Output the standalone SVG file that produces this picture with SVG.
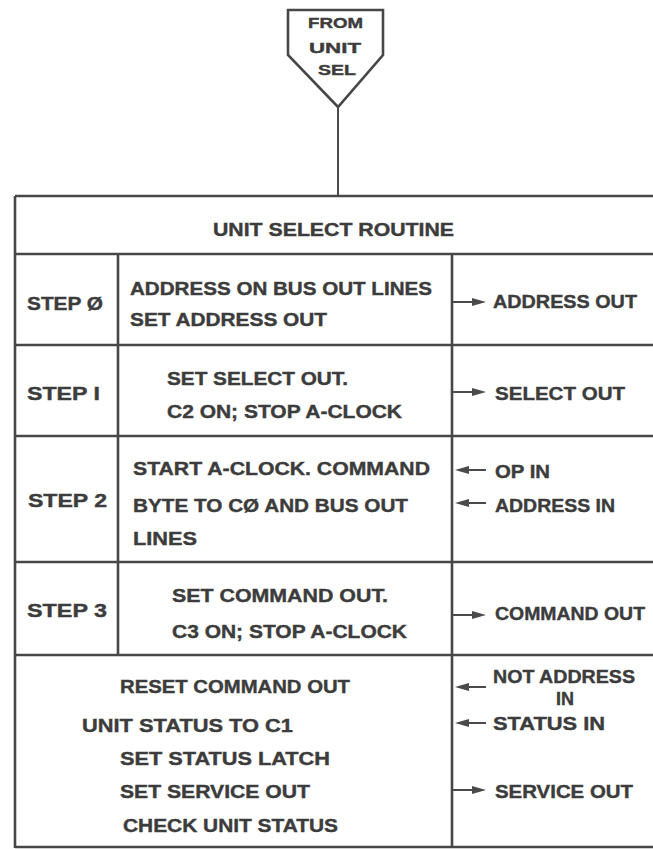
<svg xmlns="http://www.w3.org/2000/svg" width="653" height="849" viewBox="0 0 653 849">
<style>
.bg{fill:#ffffff}
.ln{stroke:#474747;stroke-width:2.6;fill:none}
.cn{stroke:#4a4a4a;stroke-width:2;fill:none}
.t{font-family:"Liberation Sans",Arial,sans-serif;font-weight:bold;font-size:19px;fill:#3c3c3c;stroke:#3c3c3c;stroke-width:0.4}
.s{font-size:15px}
</style>
<defs>
<marker id="ah" viewBox="0 0 14 8" refX="4" refY="4" markerWidth="14" markerHeight="8" markerUnits="userSpaceOnUse" orient="auto">
<path d="M0,0 L14,4 L0,8 z" fill="#4a4a4a"/>
</marker>
</defs>
<rect class="bg" x="0" y="0" width="653" height="849"/>

<g id="from-unit-sel">
<polygon class="ln" points="288,10 383,10 383,55 338,107 288,55"/>
<text class="t s" x="308" y="28" textLength="55" lengthAdjust="spacingAndGlyphs">FROM</text>
<text class="t s" x="309" y="53" textLength="52" lengthAdjust="spacingAndGlyphs">UNIT</text>
<text class="t s" x="318" y="75" textLength="38" lengthAdjust="spacingAndGlyphs">SEL</text>
</g>

<g id="table">
<line class="ln" x1="15" y1="196" x2="653" y2="196"/>
<line class="ln" x1="15" y1="254" x2="653" y2="254"/>
<line class="ln" x1="15" y1="345" x2="653" y2="345"/>
<line class="ln" x1="15" y1="436" x2="653" y2="436"/>
<line class="ln" x1="15" y1="562" x2="653" y2="562"/>
<line class="ln" x1="15" y1="655" x2="653" y2="655"/>
<line class="ln" x1="15" y1="847" x2="653" y2="847"/>
<line class="ln" x1="15" y1="196" x2="15" y2="848"/>
<line class="ln" x1="118" y1="254" x2="118" y2="655"/>
<line class="ln" x1="452" y1="254" x2="452" y2="848"/>
</g>

<g id="title">
<text class="t" x="213" y="236" textLength="241" lengthAdjust="spacingAndGlyphs">UNIT SELECT ROUTINE</text>
</g>

<g id="step0">
<text class="t" x="27" y="310" textLength="76" lengthAdjust="spacingAndGlyphs">STEP Ø</text>
<text class="t" x="130" y="295" textLength="302" lengthAdjust="spacingAndGlyphs">ADDRESS ON BUS OUT LINES</text>
<text class="t" x="130" y="326" textLength="197" lengthAdjust="spacingAndGlyphs">SET ADDRESS OUT</text>
<text class="t" x="493" y="308" textLength="144" lengthAdjust="spacingAndGlyphs">ADDRESS OUT</text>
</g>

<g id="step1">
<text class="t" x="27" y="400" textLength="73" lengthAdjust="spacingAndGlyphs">STEP I</text>
<text class="t" x="167" y="385" textLength="181" lengthAdjust="spacingAndGlyphs">SET SELECT OUT.</text>
<text class="t" x="167" y="418" textLength="235" lengthAdjust="spacingAndGlyphs">C2 ON;  STOP A-CLOCK</text>
<text class="t" x="495" y="400" textLength="130" lengthAdjust="spacingAndGlyphs">SELECT OUT</text>
</g>

<g id="step2">
<text class="t" x="28" y="507" textLength="79" lengthAdjust="spacingAndGlyphs">STEP 2</text>
<text class="t" x="133" y="475" textLength="297" lengthAdjust="spacingAndGlyphs">START A-CLOCK.  COMMAND</text>
<text class="t" x="133" y="512" textLength="275" lengthAdjust="spacingAndGlyphs">BYTE TO CØ AND BUS OUT</text>
<text class="t" x="133" y="545" textLength="64" lengthAdjust="spacingAndGlyphs">LINES</text>
<text class="t" x="495" y="478" textLength="55" lengthAdjust="spacingAndGlyphs">OP IN</text>
<text class="t" x="495" y="512" textLength="120" lengthAdjust="spacingAndGlyphs">ADDRESS IN</text>
</g>

<g id="step3">
<text class="t" x="27" y="617" textLength="80" lengthAdjust="spacingAndGlyphs">STEP 3</text>
<text class="t" x="172" y="602" textLength="216" lengthAdjust="spacingAndGlyphs">SET COMMAND OUT.</text>
<text class="t" x="172" y="638" textLength="235" lengthAdjust="spacingAndGlyphs">C3 ON;  STOP A-CLOCK</text>
<text class="t" x="495" y="620" textLength="150" lengthAdjust="spacingAndGlyphs">COMMAND OUT</text>
</g>

<g id="final">
<text class="t" x="120" y="693" textLength="230" lengthAdjust="spacingAndGlyphs">RESET COMMAND OUT</text>
<text class="t" x="82" y="732" textLength="211" lengthAdjust="spacingAndGlyphs">UNIT STATUS TO C1</text>
<text class="t" x="120" y="765" textLength="210" lengthAdjust="spacingAndGlyphs">SET STATUS LATCH</text>
<text class="t" x="120" y="798" textLength="190" lengthAdjust="spacingAndGlyphs">SET SERVICE OUT</text>
<text class="t" x="123" y="832" textLength="215" lengthAdjust="spacingAndGlyphs">CHECK UNIT STATUS</text>
<text class="t" x="493" y="683" textLength="142" lengthAdjust="spacingAndGlyphs">NOT ADDRESS</text>
<text class="t" x="556" y="705" textLength="18" lengthAdjust="spacingAndGlyphs">IN</text>
<text class="t" x="493" y="730" textLength="112" lengthAdjust="spacingAndGlyphs">STATUS IN</text>
<text class="t" x="495" y="798" textLength="138" lengthAdjust="spacingAndGlyphs">SERVICE OUT</text>
</g>

<g id="connectors">
<line class="cn" x1="338" y1="107" x2="338" y2="196"/>
<line class="cn" x1="453" y1="302" x2="476" y2="302" marker-end="url(#ah)"/>
<line class="cn" x1="453" y1="392" x2="476" y2="392" marker-end="url(#ah)"/>
<line class="cn" x1="486" y1="470" x2="465" y2="470" marker-end="url(#ah)"/>
<line class="cn" x1="486" y1="503" x2="465" y2="503" marker-end="url(#ah)"/>
<line class="cn" x1="453" y1="615" x2="476" y2="615" marker-end="url(#ah)"/>
<line class="cn" x1="486" y1="687" x2="465" y2="687" marker-end="url(#ah)"/>
<line class="cn" x1="486" y1="723" x2="465" y2="723" marker-end="url(#ah)"/>
<line class="cn" x1="453" y1="790" x2="476" y2="790" marker-end="url(#ah)"/>
</g>
</svg>
